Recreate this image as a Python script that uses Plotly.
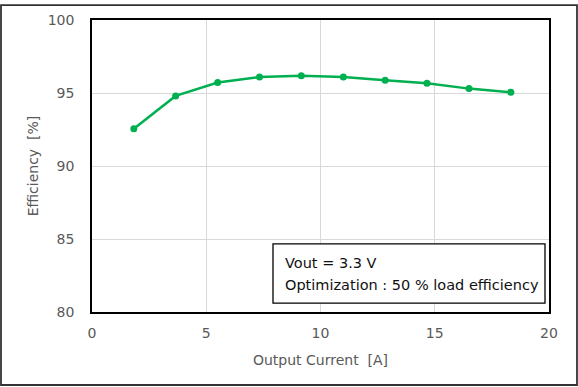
import plotly.graph_objects as go

output_current = [1.83, 3.66, 5.5, 7.33, 9.16, 11.0, 12.83, 14.66, 16.5, 18.33]
efficiency = [92.55, 94.8, 95.72, 96.1, 96.18, 96.1, 95.88, 95.66, 95.3, 95.05]
x_ticks = [0, 5, 10, 15, 20]
y_ticks = [80, 85, 90, 95, 100]
note_lines = ["Vout = 3.3 V", "Optimization : 50 % load efficiency"]

W, H = 578, 387
ml, mr, mt, mb = 92, 29, 16, 75
pw, ph = W - ml - mr, H - mt - mb

def px(xp):
    return (xp - ml) / pw

def py(yp):
    return 1 - (yp - mt) / ph

fig = go.Figure()
fig.add_trace(go.Scatter(
    x=output_current, y=efficiency, mode="lines+markers",
    line=dict(color="#00b050", width=2.5),
    marker=dict(color="#00b050", size=7),
    showlegend=False,
))

font = "DejaVu Sans"
clear = "rgba(0,0,0,0)"
fig.update_layout(
    width=W, height=H,
    margin=dict(l=ml, r=mr, t=mt, b=mb),
    paper_bgcolor="white", plot_bgcolor="white",
    font=dict(family=font, size=14, color="#595959"),
    xaxis=dict(range=[0, 20], tickvals=x_ticks, showgrid=True, gridcolor="#d9d9d9",
               gridwidth=1, zeroline=False, showline=True, linecolor="black", linewidth=1.5,
               mirror=True, ticks="outside", ticklen=7, tickcolor=clear,
               title=dict(text="Output Current  [A]", font=dict(size=14, color="#595959"), standoff=16)),
    yaxis=dict(range=[80, 100], tickvals=y_ticks, showgrid=True, gridcolor="#d9d9d9",
               gridwidth=1, zeroline=False, showline=True, linecolor="black", linewidth=1.5,
               mirror=True, ticks="outside", ticklen=13, tickcolor=clear,
               title=dict(text="Efficiency  [%]", font=dict(size=14, color="#595959"), standoff=6)),
)

# annotation box
fig.add_shape(type="rect", xref="paper", yref="paper",
              x0=px(273), x1=px(545), y0=py(303), y1=py(243),
              line=dict(color="black", width=1.3), fillcolor="white", layer="above")
for i, line in enumerate(note_lines):
    fig.add_annotation(x=px(283), y=py(262 + 23 * i), xref="paper", yref="paper",
                       xanchor="left", yanchor="middle", text=line, showarrow=False,
                       font=dict(family=font, size=14.5, color="#111111"))

fig.add_shape(type="rect", xref="paper", yref="paper",
              x0=px(1), x1=px(W - 1), y0=py(H - 1), y1=py(1),
              line=dict(color="#333333", width=1.8), layer="above")

fig.write_html("out.html", config={"displayModeBar": False},
               post_script="document.body.style.margin='0';document.body.style.overflow='hidden';")
